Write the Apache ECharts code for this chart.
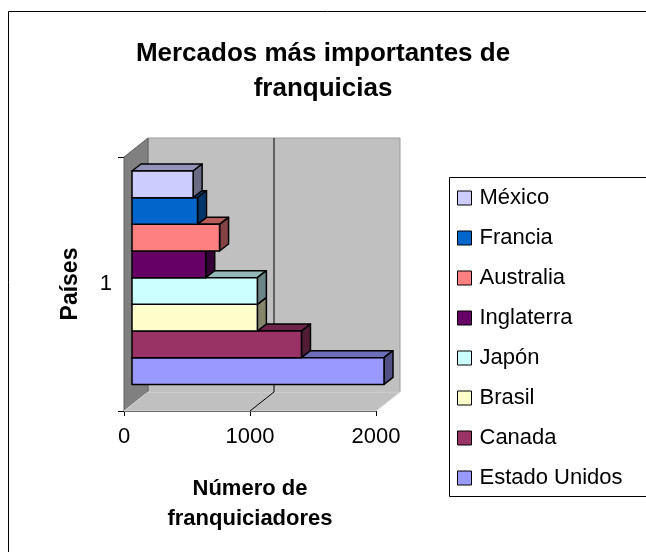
<!DOCTYPE html>
<html><head><meta charset="utf-8">
<script src="https://cdn.jsdelivr.net/npm/echarts@6/dist/echarts.min.js"></script>
<style>html,body{margin:0;padding:0;background:#fff}#c{width:646px;height:552px}</style>
</head><body><div id="c"></div>
<script>
// ---- data ----
const categories = ['1'];
const countries = ['Estado Unidos', 'Canada', 'Brasil', 'Japón', 'Inglaterra', 'Australia', 'Francia', 'México'];
const values = [2000, 1345, 995, 995, 585, 695, 520, 485];
const colors = ['#9999FF', '#993366', '#FFFFCC', '#CCFFFF', '#660066', '#FF8080', '#0066CC', '#CCCCFF'];
const xTicks = [0, 1000, 2000];
const legendOrder = countries.slice().reverse();

// ---- style constants ----
const FONT = '"Liberation Sans", Arial, sans-serif';
const BOX_DX = 24, BOX_DY = -19;
const BAR_DX = 8, BAR_DY = -6.3;
const BAR_DEPTH_X = 9, BAR_DEPTH_Y = -7;
const BLOCK_FRAC = 0.84;

function shade(hex, f) {
  const n = parseInt(hex.slice(1), 16);
  const r = Math.round(((n >> 16) & 255) * f), g = Math.round(((n >> 8) & 255) * f), b = Math.round((n & 255) * f);
  return 'rgb(' + r + ',' + g + ',' + b + ')';
}

function wallsRender(params, api) {
  const pA = api.coord([xTicks[0], 0]);
  const pB = api.coord([xTicks[xTicks.length - 1], 0]);
  const band = api.size([0, 1])[1];
  const x0 = pA[0], x1 = pB[0], yT = pA[1] - band / 2, yB = pA[1] + band / 2;
  const children = [
    { type: 'polygon', shape: { points: [[x0 + BOX_DX, yT + BOX_DY], [x1 + BOX_DX, yT + BOX_DY], [x1 + BOX_DX, yB + BOX_DY], [x0 + BOX_DX, yB + BOX_DY]] },
      style: { fill: '#C0C0C0', stroke: '#9a9a9a', lineWidth: 1 } },
    { type: 'polygon', shape: { points: [[x0, yT], [x0 + BOX_DX, yT + BOX_DY], [x0 + BOX_DX, yB + BOX_DY], [x0, yB]] },
      style: { fill: '#808080', stroke: '#606060', lineWidth: 1 } },
    { type: 'polygon', shape: { points: [[x0, yB], [x1, yB], [x1 + BOX_DX, yB + BOX_DY], [x0 + BOX_DX, yB + BOX_DY]] },
      style: { fill: '#C0C0C0', stroke: '#d8d8d8', lineWidth: 1 } }
  ];
  for (let i = 1; i < xTicks.length - 1; i++) {
    const xv = api.coord([xTicks[i], 0])[0];
    children.push({ type: 'line', shape: { x1: xv + BOX_DX, y1: yT + BOX_DY, x2: xv + BOX_DX, y2: yB + BOX_DY }, style: { stroke: '#000', lineWidth: 1 } });
    children.push({ type: 'line', shape: { x1: xv, y1: yB, x2: xv + BOX_DX, y2: yB + BOX_DY }, style: { stroke: '#000', lineWidth: 1 } });
  }
  return { type: 'group', children: children };
}

function barRender(k, params, api) {
  const v = api.value(0), cat = api.value(1);
  const c = api.coord([0, cat]);
  const e = api.coord([v, cat]);
  const band = api.size([0, 1])[1];
  const barH = band * BLOCK_FRAC / countries.length;
  const yBot = c[1] + band * BLOCK_FRAC / 2 - k * barH + BAR_DY;
  const yTop = yBot - barH;
  const xl = c[0] + BAR_DX, xr = e[0] + BAR_DX;
  const col = colors[k];
  const ln = { stroke: '#000', lineWidth: 1.5, lineJoin: 'round' };
  return { type: 'group', children: [
    { type: 'polygon', shape: { points: [[xl, yTop], [xr, yTop], [xr + BAR_DEPTH_X, yTop + BAR_DEPTH_Y], [xl + BAR_DEPTH_X, yTop + BAR_DEPTH_Y]] },
      style: Object.assign({ fill: shade(col, 0.72) }, ln) },
    { type: 'polygon', shape: { points: [[xr, yTop], [xr + BAR_DEPTH_X, yTop + BAR_DEPTH_Y], [xr + BAR_DEPTH_X, yBot + BAR_DEPTH_Y], [xr, yBot]] },
      style: Object.assign({ fill: shade(col, 0.52) }, ln) },
    { type: 'rect', shape: { x: xl, y: yTop, width: xr - xl, height: barH },
      style: Object.assign({ fill: col }, ln) }
  ] };
}

const series = [{
  name: 'walls', type: 'custom', silent: true, z: 1, clip: false,
  renderItem: wallsRender, data: [[xTicks[0], 0]], encode: { x: 0, y: 1 }
}].concat(countries.map((name, k) => ({
  name: name, type: 'custom', z: 2, clip: false,
  itemStyle: { color: colors[k], borderColor: '#000', borderWidth: 1 },
  renderItem: (p, api) => barRender(k, p, api),
  data: [[values[k], 0]], encode: { x: 0, y: 1 }
})));

const chart = echarts.init(document.getElementById('c'), null, { renderer: 'canvas' });
chart.setOption({
  animation: false,
  backgroundColor: '#fff',
  textStyle: { fontFamily: FONT, color: '#000' },
  title: {
    text: 'Mercados más importantes de\nfranquicias', left: 'center', top: 31,
    textStyle: { fontFamily: FONT, fontSize: 26, fontWeight: 'bold', color: '#000', lineHeight: 35 }
  },
  grid: { left: 124, top: 157, width: 252, height: 254, containLabel: false },
  xAxis: {
    type: 'value', min: xTicks[0], max: xTicks[xTicks.length - 1], interval: 1000,
    axisLine: { show: true, lineStyle: { color: '#000', width: 1 } },
    axisTick: { show: true, length: 5, lineStyle: { color: '#000' } },
    axisLabel: { fontFamily: FONT, fontSize: 22, color: '#000', margin: 15, formatter: v => String(v) },
    splitLine: { show: false },
    name: 'Número de\nfranquiciadores', nameLocation: 'middle', nameGap: 63,
    nameTextStyle: { fontFamily: FONT, fontSize: 22, fontWeight: 'bold', color: '#000', lineHeight: 30 }
  },
  yAxis: {
    type: 'category', data: categories,
    axisLine: { show: true, lineStyle: { color: '#000', width: 1 } },
    axisTick: { show: true, length: 6, lineStyle: { color: '#000' } },
    axisLabel: { fontFamily: FONT, fontSize: 22, color: '#000', margin: 12 },
    name: 'Países', nameLocation: 'middle', nameRotate: 90, nameGap: 42,
    nameTextStyle: { fontFamily: FONT, fontSize: 23, fontWeight: 'bold', color: '#000' }
  },
  legend: {
    data: legendOrder, orient: 'vertical', left: 457, top: 187, padding: 0,
    icon: 'rect', itemWidth: 14, itemHeight: 14, itemGap: 18,
    itemStyle: { borderColor: '#000', borderWidth: 1 },
    textStyle: { fontFamily: FONT, fontSize: 22, color: '#000', padding: [0, 0, 0, 3] }
  },
  graphic: [
    { type: 'rect', silent: true, shape: { x: 8.5, y: 11.5, width: 700, height: 600 }, style: { fill: 'none', stroke: '#000', lineWidth: 1 } },
    { type: 'rect', silent: true, shape: { x: 449.5, y: 177.5, width: 300, height: 319 }, style: { fill: 'none', stroke: '#000', lineWidth: 1 } }
  ],
  series: series
});
</script></body></html>
